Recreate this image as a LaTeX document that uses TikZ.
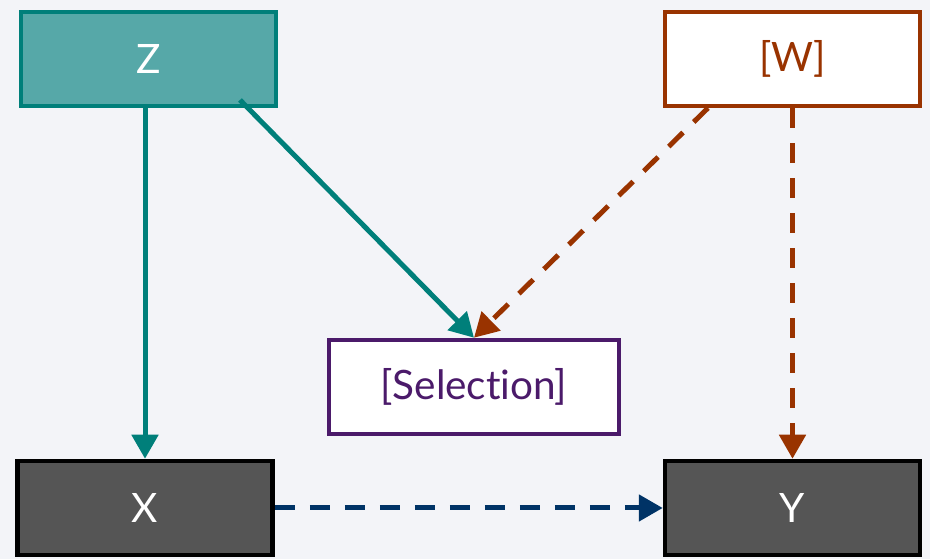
\documentclass[tikz,border=0pt]{standalone}
\usepackage{fontspec}
\setmainfont{Lato}[Ligatures={NoCommon}]
\usetikzlibrary{arrows.meta}
\definecolor{bgcol}{HTML}{F3F4F8}
\definecolor{tealfill}{HTML}{56A8A8}
\definecolor{tealline}{HTML}{007F7A}
\definecolor{rust}{HTML}{993300}
\definecolor{plum}{HTML}{4B1A6A}
\definecolor{navy}{HTML}{003366}
\definecolor{darkbox}{HTML}{555555}
\tikzset{
  x=1pt, y=1pt,
  box/.style={rectangle, minimum width=255pt, minimum height=94pt, line width=4.5pt,
              inner sep=0pt, font=\fontsize{40.5}{44}\selectfont},
  zbox/.style={box, fill=tealfill, draw=tealline, text=white},
  wbox/.style={box, fill=white, draw=rust, text=rust},
  selbox/.style={box, minimum width=290pt, fill=white, draw=plum, text=plum},
  outbox/.style={box, fill=darkbox, draw=black, text=white},
  tip/.style={-{Triangle[length=24pt,width=26pt]}},
  tealarrow/.style={tip, draw=tealline, fill=tealline, line width=5pt},
  rustarrow/.style={tip, draw=rust, line width=5pt, dash pattern=on 20pt off 15pt},
  navyarrow/.style={tip, draw=navy, line width=5pt, dash pattern=on 20pt off 15pt},
}
\begin{document}
\begin{tikzpicture}
  \fill[bgcol] (0,0) rectangle (930,559);
  \useasboundingbox (0,0) rectangle (930,559);

  \node[zbox]   (Z)   at (148.5,500) {Z};
  \node[wbox]   (W)   at (792.5,500) {[W]};
  \node[selbox] (S)   at (474,172)   {[Selection]};
  \node[outbox] (X)   at (145,51)    {X};
  \node[outbox] (Y)   at (792.5,51)  {Y};

  \coordinate (zstart) at (240,459);
  \coordinate (wstart) at (708,451);

  \draw[tealarrow] (Z.south -| X.north) -- (X.north);
  \draw[tealarrow] (zstart) -- (S.north);
  \draw[rustarrow] (wstart) -- (S.north);
  \draw[rustarrow] (W.south) -- (Y.north);
  \draw[navyarrow] (X.east) -- (Y.west);
\end{tikzpicture}
\end{document}
